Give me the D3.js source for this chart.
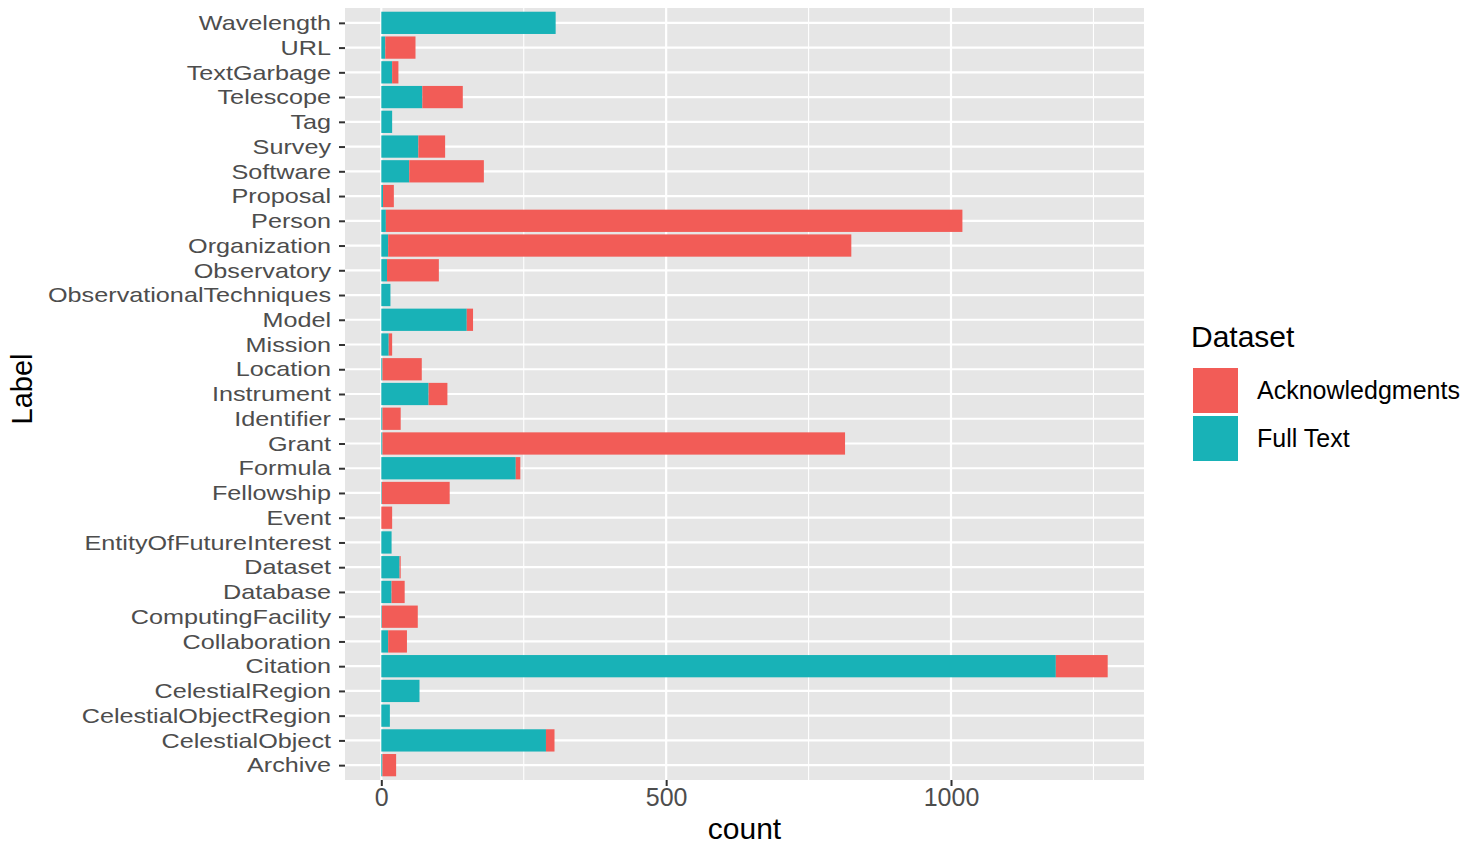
<!DOCTYPE html>
<html><head><meta charset="utf-8">
<script src="https://cdn.jsdelivr.net/npm/d3@7"></script>
<style>body{margin:0;background:#fff}svg{display:block}text{font-family:"Liberation Sans",Arial,sans-serif}</style>
</head><body><svg id="c" width="1462" height="849"></svg>
<script>
const labels = ["Wavelength","URL","TextGarbage","Telescope","Tag","Survey","Software","Proposal","Person","Organization","Observatory","ObservationalTechniques","Model","Mission","Location","Instrument","Identifier","Grant","Formula","Fellowship","Event","EntityOfFutureInterest","Dataset","Database","ComputingFacility","Collaboration","Citation","CelestialRegion","CelestialObjectRegion","CelestialObject","Archive"];
const fullText = [306,7,19,72,19,65,49,3,8,12,10,16,150,13,2,83,2,2,236,1,0,18,32,18,1,12,1184,67,15,289,2];
const acknowledgments = [0,53,11,71,0,47,131,19,1012,813,91,0,11,6,69,33,32,812,8,119,19,0,2,23,63,33,91,0,0,15,24];
const series = ["Acknowledgments","Full Text"];
const xTicks = [0,500,1000];
const xMinor = [250,750,1250];

const colors = {"Acknowledgments":"#F25C57","Full Text":"#18B2B7"};
const svg = d3.select("#c");
const L=345, R=1144, T=8, B=780;
const maxV = d3.max(labels, (d,i)=>fullText[i]+acknowledgments[i]);
const x = d3.scaleLinear().domain([-0.05*maxV, 1.05*maxV]).range([L,R]);
const y = d3.scalePoint().domain(labels).range([T,B]).padding(0.6);
const bw = y.step()*0.9;

svg.append("rect").attr("x",L).attr("y",T).attr("width",R-L).attr("height",B-T).attr("fill","#E6E6E6");
const g = svg.append("g");
g.selectAll("line.minor").data(xMinor).join("line").attr("x1",d=>x(d)).attr("x2",d=>x(d)).attr("y1",T).attr("y2",B).attr("stroke","#fff").attr("stroke-width",1.1);
g.selectAll("line.majx").data(xTicks).join("line").attr("x1",d=>x(d)).attr("x2",d=>x(d)).attr("y1",T).attr("y2",B).attr("stroke","#fff").attr("stroke-width",2.2);
g.selectAll("line.majy").data(labels).join("line").attr("x1",L).attr("x2",R).attr("y1",d=>y(d)).attr("y2",d=>y(d)).attr("stroke","#fff").attr("stroke-width",2.2);

// bars: Full Text from 0, Acknowledgments stacked after
svg.append("g").selectAll("rect").data(labels).join("rect")
  .attr("x",x(0)).attr("y",d=>y(d)-bw/2).attr("height",bw)
  .attr("width",(d,i)=>x(fullText[i])-x(0)).attr("fill",colors["Full Text"]);
svg.append("g").selectAll("rect").data(labels).join("rect")
  .attr("x",(d,i)=>x(fullText[i])).attr("y",d=>y(d)-bw/2).attr("height",bw)
  .attr("width",(d,i)=>x(fullText[i]+acknowledgments[i])-x(fullText[i])).attr("fill",colors["Acknowledgments"]);

// y axis
const yAx = svg.append("g").attr("transform",`translate(${L},0)`)
  .call(d3.axisLeft(y).tickSize(6).tickPadding(8));
yAx.select(".domain").remove();
yAx.selectAll(".tick line").attr("stroke","#333").attr("stroke-width",2);
yAx.selectAll(".tick text").attr("fill","#4D4D4D").attr("font-size","21px").attr("font-family","Liberation Sans, Arial, sans-serif")
  .each(function(){ const w=this.getComputedTextLength(); this.setAttribute("textLength", (w*1.2).toFixed(1)); this.setAttribute("lengthAdjust","spacingAndGlyphs"); });

// x axis
const xAx = svg.append("g").attr("transform",`translate(0,${B})`)
  .call(d3.axisBottom(x).tickValues(xTicks).tickSize(6).tickPadding(2).tickFormat(d3.format("d")));
xAx.select(".domain").remove();
xAx.selectAll(".tick line").attr("stroke","#333").attr("stroke-width",2);
xAx.selectAll(".tick text").attr("fill","#4D4D4D").attr("font-size","25px").attr("font-family","Liberation Sans, Arial, sans-serif");

svg.append("text").attr("x",(L+R)/2).attr("y",839).attr("text-anchor","middle").attr("font-size","30px").attr("fill","#000").text("count");
svg.append("text").attr("transform",`translate(32,389) rotate(-90)`).attr("text-anchor","middle").attr("font-size","29px").attr("fill","#000").text("Label");

// legend
const lg = svg.append("g");
lg.append("text").attr("x",1191).attr("y",347).attr("font-size","30px").attr("fill","#000").text("Dataset");
series.forEach((s,i)=>{
  lg.append("rect").attr("x",1193).attr("y",368+i*48).attr("width",45).attr("height",45).attr("fill",colors[s]);
  lg.append("text").attr("x",1257).attr("y",368+i*48+22.5).attr("dy","0.35em").attr("font-size","25px").attr("fill","#000").text(s);
});
</script></body></html>
